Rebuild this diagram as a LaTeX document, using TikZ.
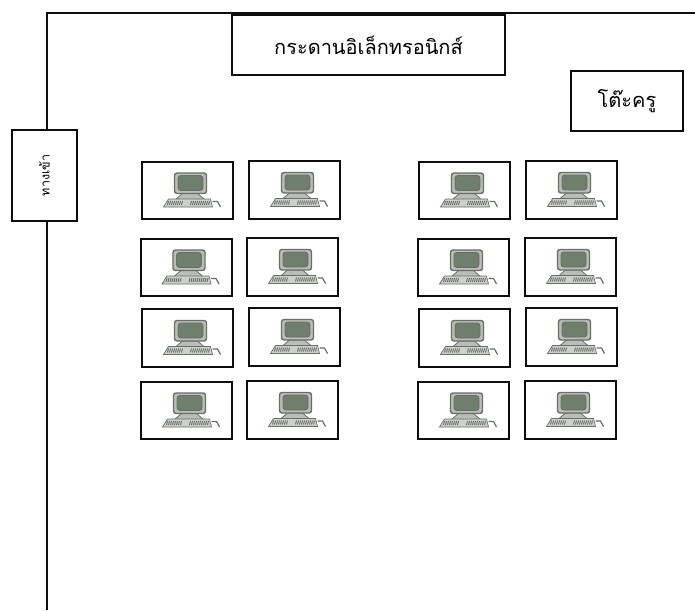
\documentclass[tikz,border=0pt]{standalone}
\usepackage{fontspec}
\newfontfamily\thaifont[Script=Thai]{Loma}
\usepackage{tikz}
\usetikzlibrary{positioning}
\definecolor{wallcol}{gray}{0.05}
\definecolor{screencol}{RGB}{112,126,110}
\definecolor{casecol}{RGB}{186,190,182}
\definecolor{keycol}{RGB}{206,208,202}
\definecolor{edgecol}{RGB}{104,110,104}
\tikzset{
	room/.style={draw=wallcol, line width=1.8pt, fill=white, inner sep=0pt, font=\thaifont},
	pcbox/.style={room, line width=2pt, minimum width=91pt, minimum height=57.5pt},
	pics/computer/.style={code={
		\draw[edgecol, line width=0.8pt, fill=casecol] (-5,3) -- (10,3) -- (17,9) -- (-12,9) -- cycle;
		\draw[edgecol, line width=1.4pt, fill=casecol, rounded corners=2.5pt] (-13,-17.5) rectangle (19,3);
		\draw[edgecol, line width=0.9pt, fill=screencol, rounded corners=3pt] (-9.5,-15) rectangle (15.5,0);
		\draw[edgecol, line width=0.7pt, fill=keycol] (-19,8.5) -- (23,8.5) -- (25,16.5) -- (-24,16.5) -- cycle;
		\foreach \k in {-19,-17,...,-5,4,6,...,22} {
			\draw[edgecol, line width=0.9pt] (\k,10.5) -- (\k-1,14.5);
		}
		\draw[edgecol, line width=1.2pt] (25,11) -- (30,11) -- (33,16.5);
	}}
}
\begin{document}
\begin{tikzpicture}[x=1pt, y=-1pt]
	\useasboundingbox (0,0) rectangle (695,610);

	% walls
	\coordinate (wallend) at (47,610);
	\coordinate (corner) at (47,13);
	\coordinate (wallright) at (695,13);
	\draw[draw=wallcol, line width=1.8pt] (wallend) -- (corner) -- (wallright);

	\node[room, minimum width=273pt, minimum height=60pt, font=\thaifont\fontsize{20}{22}\selectfont] (board) at (368.5,45) {กระดานอิเล็กทรอนิกส์};
	\node[room, minimum width=112pt, minimum height=60pt, font=\thaifont\fontsize{20}{22}\selectfont] (desk) at (627,101) {โต๊ะครู};
	\node[room, minimum width=65pt, minimum height=91pt] (door) at (44.5,175.5) {};
	\node[rotate=90, font=\thaifont\fontsize{12.5}{14}\selectfont] (doortext) at (door.center) {ทางเข้า};

	% computers
	\foreach \name/\px/\py in {a/187.5/190.5, b/294.5/190, c/186/267.5, d/292.5/267,
			e/187.5/338, f/294.5/337, g/186.5/410.5, h/292.5/410,
			i/464.5/190.5, j/571.5/190, k/463.5/267.5, l/570.5/267,
			m/464.5/338, n/571.5/337, o/463.5/410.5, p/570.5/410} {
		\node[pcbox] (\name) at (\px,\py) {};
		\pic at (\name.center) {computer};
	}
\end{tikzpicture}
\end{document}
